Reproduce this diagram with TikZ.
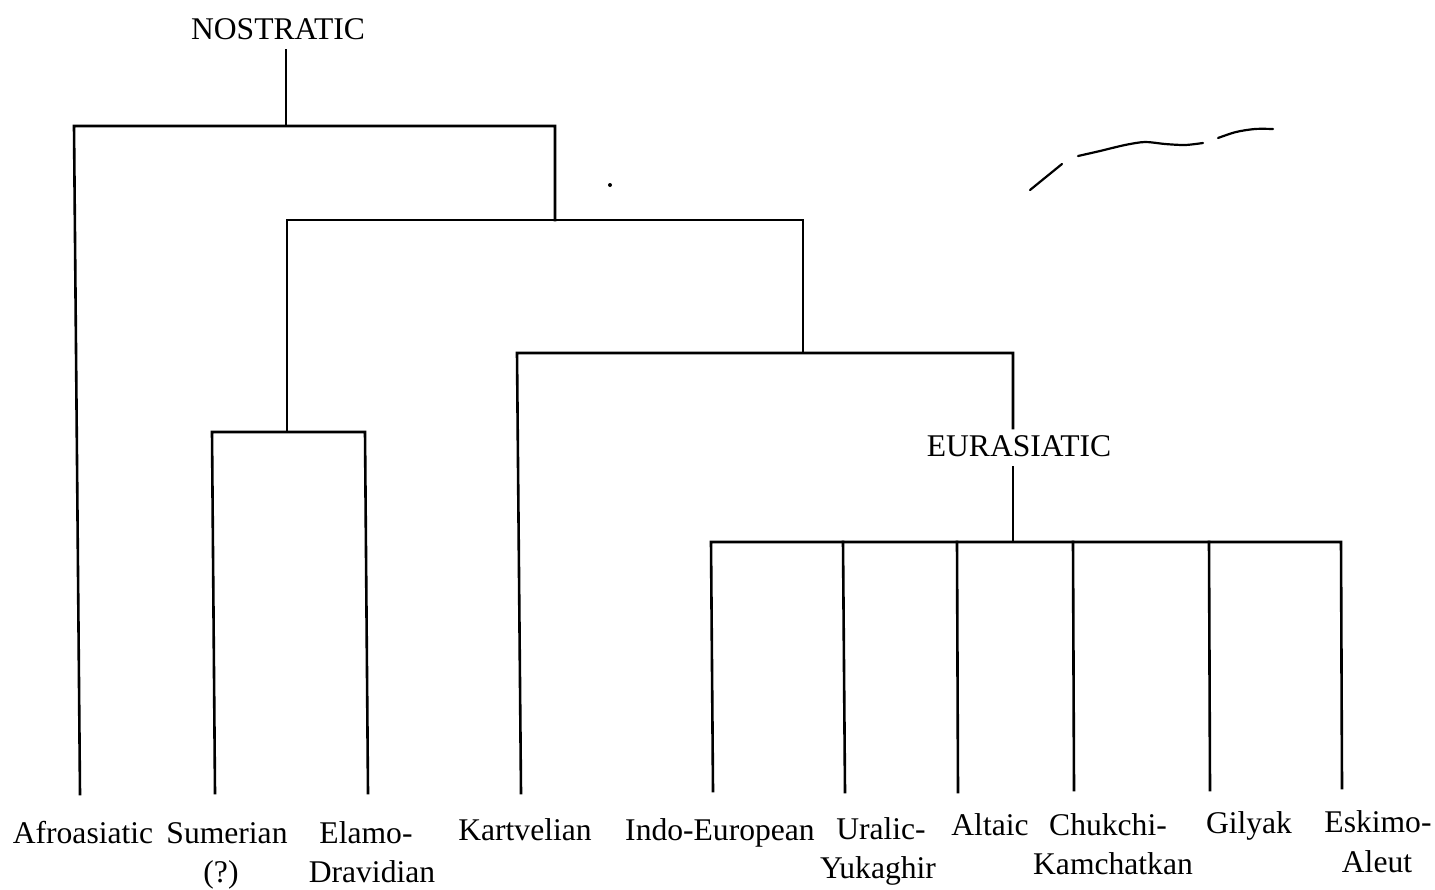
\documentclass[tikz,border=0pt]{standalone}
\usepackage{fontspec}
\setmainfont{Liberation Serif}
\begin{document}
\begin{tikzpicture}[x=1pt,y=-1pt,
  lbl/.style={anchor=base,inner sep=0pt,font=\fontsize{31.6}{38}\selectfont},
  branch/.style={line width=2.6pt,line cap=rect,line join=miter},
  smudge/.style={line width=2.2pt,line cap=round}]
\useasboundingbox (0,0) rectangle (1435,889);
\fill[white] (0,0) rectangle (1435,889);

% labels
\node[lbl] (nost) at (278,39) {NOSTRATIC};
\node[lbl] (eura) at (1019,456) {EURASIATIC};
\node[lbl] (afro) at (83,843) {Afroasiatic};
\node[lbl] (sum) at (227,843) {Sumerian};
\node[lbl] (sumq) at (221,882) {(?)};
\node[lbl] (elam) at (366,843) {Elamo-};
\node[lbl] (drav) at (372,882) {Dravidian};
\node[lbl] (kart) at (525,840) {Kartvelian};
\node[lbl] (indo) at (720,840) {Indo-European};
\node[lbl] (ural) at (881,839) {Uralic-};
\node[lbl] (yuka) at (878,878) {Yukaghir};
\node[lbl] (alta) at (990,835) {Altaic};
\node[lbl] (chuk) at (1108,835) {Chukchi-};
\node[lbl] (kamc) at (1113,874) {Kamchatkan};
\node[lbl] (gily) at (1249,833) {Gilyak};
\node[lbl] (eski) at (1378,832) {Eskimo-};
\node[lbl] (aleu) at (1377,872) {Aleut};

% junction coordinates
\coordinate (n0) at (286,50);
\coordinate (n1) at (286,126);
\coordinate (aT) at (74,126);
\coordinate (aB) at (80,794);
\coordinate (r1) at (555,126);
\coordinate (r1b) at (555,220);
\coordinate (l2) at (287,220);
\coordinate (r2) at (803,220);
\coordinate (l2b) at (287,432);
\coordinate (sT) at (212,432);
\coordinate (sB) at (215,793);
\coordinate (eT) at (365,432);
\coordinate (eB) at (368,793);
\coordinate (r2b) at (803,353);
\coordinate (kT) at (517,353);
\coordinate (kB) at (521,793);
\coordinate (r3) at (1013,353);
\coordinate (g1) at (1013,428);
\coordinate (g2) at (1013,467);
\coordinate (r3b) at (1013,542);
\coordinate (iT) at (711,542);
\coordinate (iB) at (713,791);
\coordinate (uT) at (843,542);
\coordinate (uB) at (845,792);
\coordinate (tT) at (957,542);
\coordinate (tB) at (958,792);
\coordinate (cT) at (1073,542);
\coordinate (cB) at (1074,790);
\coordinate (yT) at (1209,542);
\coordinate (yB) at (1210,790);
\coordinate (oT) at (1341,542);
\coordinate (oB) at (1342,788);

% tree
\draw[branch] (n0) -- (n1);
\draw[branch] (aB) -- (aT) -- (r1) -- (r1b);
\draw[branch] (l2b) -- (l2) -- (r2) -- (r2b);
\draw[branch] (sB) -- (sT) -- (eT) -- (eB);
\draw[branch] (kB) -- (kT) -- (r3) -- (g1);
\draw[branch] (g2) -- (r3b);
\draw[branch] (iB) -- (iT) -- (oT) -- (oB);
\draw[branch] (uT) -- (uB);
\draw[branch] (tT) -- (tB);
\draw[branch] (cT) -- (cB);
\draw[branch] (yT) -- (yB);

% scan marks
\draw[smudge] plot[smooth] coordinates {(1030,190) (1046,177) (1062,164)};
\draw[smudge] plot[smooth] coordinates {(1078,156) (1100,151) (1125,145) (1145,142) (1165,144) (1185,145) (1203,143)};
\draw[smudge] plot[smooth] coordinates {(1218,138) (1236,132) (1255,129) (1273,129)};
\fill (610,185) circle (2);
\end{tikzpicture}
\end{document}
